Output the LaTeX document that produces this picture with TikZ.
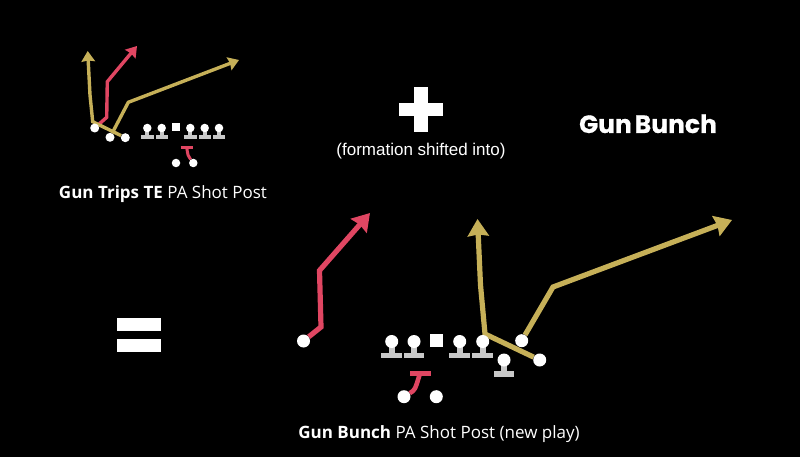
\documentclass[tikz,border=0pt]{standalone}
\usepackage{fontspec}
\setmainfont{Open Sans}
\newfontfamily\labelfont{Liberation Sans}
\newfontfamily\headfont[WordSpace=0.55,FakeBold=0.6]{Poppins}
\usetikzlibrary{arrows.meta,backgrounds}
\definecolor{routegold}{HTML}{C6B058}
\definecolor{routered}{HTML}{E04662}
\definecolor{blockgray}{HTML}{C8C8C8}
\tikzset{
  x=1pt,y=-1pt,
  player/.style={circle,fill=white,inner sep=0pt,minimum size=#1},
  player/.default=9pt,
  smallroute/.style={line width=3.4pt,line join=miter,-{Stealth[length=10.5pt,width=13.5pt,inset=1pt]}},
  bigroute/.style={line width=5.2pt,line join=miter,-{Stealth[length=17pt,width=21pt,inset=1.5pt]}},
  smallblock/.style={line width=3pt,routered},
  bigblock/.style={line width=4.6pt,routered},
  caption/.style={inner sep=0pt,text=white,font=\fontsize{17}{20}\selectfont},
}
\newcommand{\lineman}[5]{% name, x, y, head size, base half width
  \fill[blockgray] (#2-#4*0.22,#3) rectangle (#2+#4*0.22,#3+#4);
  \fill[blockgray] (#2-#5,#3+#4*0.87) rectangle (#2+#5,#3+#4*1.3);
  \node[player=#4] (#1) at (#2,#3) {};
}
\begin{document}
\begin{tikzpicture}
\useasboundingbox (0,0) rectangle (800,457);
% top diagram players
\node[player] (ta) at (94.7,128) {};
\node[player] (tb) at (110,137.3) {};
\node[player] (tc) at (125.3,137.7) {};
\lineman{tl1}{147.3}{128}{8.5}{6.2}
\lineman{tl2}{161.7}{128}{8.5}{6.2}
\node[fill=white,inner sep=0pt,minimum size=8pt] (tcenter) at (176,127.5) {};
\lineman{tl3}{190.3}{128}{8.5}{6.2}
\lineman{tl4}{204.7}{128}{8.5}{6.2}
\lineman{tl5}{219}{128}{8.5}{6.2}
\node[player=8.5pt] (tq) at (176,163) {};
\node[player=8.5pt] (tr) at (193.3,163) {};
\coordinate (tbar1) at (180.7,147.3);
\coordinate (tbar2) at (192.7,147.3);
\coordinate (tstem) at (186.7,147.3);
\coordinate (ta1) at (92.7,121.7);
\coordinate (ta2) at (90,95);
\coordinate (ta3) at (87.7,51);
\coordinate (tb1) at (106.7,117.3);
\coordinate (tb2) at (107.3,81.7);
\coordinate (tb3) at (137,46);
\coordinate (tc1) at (128.3,102.3);
\coordinate (tc2) at (239,60);
% bottom diagram players
\lineman{bl1}{391.7}{341.5}{13}{10.3}
\lineman{bl2}{414}{341.5}{13}{10.3}
\node[fill=white,inner sep=0pt,minimum size=13pt] (bcenter) at (436.3,340.7) {};
\lineman{bl3}{459.7}{341.5}{13}{10.3}
\lineman{bl4}{482.7}{341.5}{13}{10.3}
\lineman{bl5}{504}{360}{13}{10.3}
\node[player=13pt] (bw1) at (303.5,341) {};
\node[player=13pt] (bw2) at (521.7,340.7) {};
\node[player=13pt] (bw3) at (539.7,360) {};
\node[player=13pt] (bq) at (404,396.7) {};
\node[player=13pt] (br) at (436.3,396.7) {};
\coordinate (bbar1) at (410,373.3);
\coordinate (bbar2) at (430.7,373.3);
\coordinate (bstem) at (420,373.3);
\coordinate (bw1a) at (321,327);
\coordinate (bw1b) at (319.5,270.5);
\coordinate (bw1c) at (370,213);
\coordinate (bw3a) at (485,334);
\coordinate (bw3b) at (480.5,285);
\coordinate (bw3c) at (477.5,219);
\coordinate (bw2a) at (553,287);
\coordinate (bw2b) at (732,220);
\begin{scope}[on background layer]
  \fill[black] (0,0) rectangle (800,457);
  \draw[smallroute,routered] (ta) -- (tb1) -- (tb2) -- (tb3);
  \draw[smallroute,routegold] (tc) -- (ta1) -- (ta2) -- (ta3);
  \draw[smallroute,routegold] (tb) -- (tc1) -- (tc2);
  \draw[smallblock] (tbar1) -- (tbar2);
  \draw[smallblock] (tr) .. controls (188,156) .. (tstem);
  \draw[bigroute,routered] (bw1) -- (bw1a) -- (bw1b) -- (bw1c);
  \draw[bigroute,routegold] (bw3) -- (bw3a) -- (bw3b) -- (bw3c);
  \draw[bigroute,routegold] (bw2) -- (bw2a) -- (bw2b);
  \draw[bigblock] (bbar1) -- (bbar2);
  \draw[bigblock] (bq) .. controls (415,390) .. (bstem);
\end{scope}
% plus and equals
\fill[white] (413.7,86.7) rectangle (428,131.7);
\fill[white] (399,102.7) rectangle (442.7,116);
\fill[white] (117,318) rectangle (161,331);
\fill[white] (117,339) rectangle (161,352);
% texts
\node[caption,anchor=base] (capt) at (163,199) {\textbf{Gun Trips TE} PA Shot Post};
\node[caption,anchor=base] (capb) at (439,438) {\textbf{Gun Bunch} PA Shot Post (new play)};
\node[inner sep=0pt,text=white,anchor=base,font=\labelfont\fontsize{17}{20}\selectfont] (shift) at (421,156) {(formation shifted into)};
\node[inner sep=0pt,text=white,anchor=base,font=\headfont\bfseries\fontsize{25}{30}\selectfont] (head) at (648,133) {Gun Bunch};
\end{tikzpicture}
\end{document}
